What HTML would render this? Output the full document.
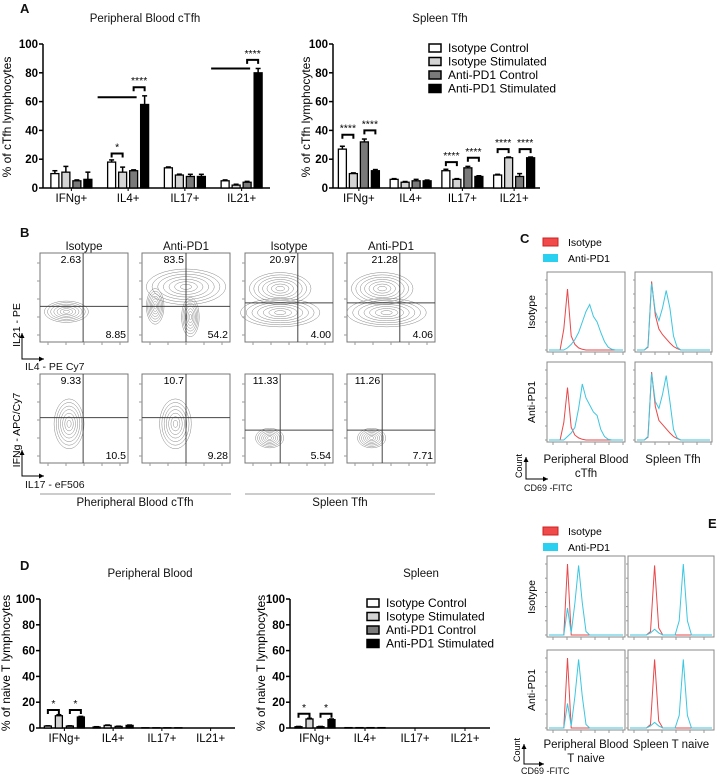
<!DOCTYPE html>
<html><head><meta charset="utf-8"><style>
html,body{margin:0;padding:0;background:#fff}
svg{display:block;font-family:"Liberation Sans",Arial,sans-serif}
</style></head><body>
<svg id="fig" width="719" height="775" viewBox="0 0 719 775" xmlns="http://www.w3.org/2000/svg"></svg>
<script>
// ---------- Panel A data ----------
const catsA = ["IFNg+","IL4+","IL17+","IL21+"];
const seriesNames = ["Isotype Control","Isotype Stimulated","Anti-PD1 Control","Anti-PD1 Stimulated"];
const aLeftVals = [[10,11,5,6],[18,11,12,58],[14,9,8,8],[5,2,4,80]];
const aLeftErr  = [[2,4,0.6,5],[1.5,3.5,0.6,6],[0.6,0.6,1.5,1.5],[0.6,0.6,0.6,3]];
const aRightVals = [[27,10,32,12],[6,4,5,5],[12,6,14,8],[9,21,8,21]];
const aRightErr  = [[2,0.5,2,0.8],[0.5,0.5,1,0.5],[1,0.5,1,0.5],[0.5,0.5,2,0.5]];
const yTicks = [0,20,40,60,80,100];
// brackets: [group, barA, barB, value, label]
const aLeftSig = [[1,0,1,24,"*"],[1,2,3,70,"****"],[3,2,3,89,"****"]];
const aLeftLines = [[1,-1,2,63],[3,-1,2,83]];
const aRightSig = [[0,0,1,37,"****"],[0,2,3,40,"****"],[2,0,1,18,"****"],[2,2,3,21,"****"],[3,0,1,27,"****"],[3,2,3,27,"****"]];
// ---------- Panel D data ----------
const dLeftVals = [[1.5,9.5,1.5,8.5],[0.8,2,1.2,2],[0.2,0.2,0.2,0.2],[0,0,0,0]];
const dLeftErr = [[0.2,0.8,0.2,0.5],[0.2,0.3,0.2,0.3],[0,0,0,0],[0,0,0,0]];
const dRightVals = [[1,7,1,6.5],[0.3,0.3,0.3,0.3],[0,0,0,0],[0,0,0,0]];
const dRightErr = [[0.2,0.5,0.2,0.5],[0,0,0,0],[0,0,0,0],[0,0,0,0]];
const dLeftSig = [[0,0,1,14,"*"],[0,2,3,14,"*"]];
const dRightSig = [[0,0,1,11,"*"],[0,2,3,11,"*"]];
// ---------- Panel B data (quadrant percentages) ----------
const bTopLeft = ["2.63","83.5","20.97","21.28","9.33","10.7","11.33","11.26"];
const bBotRight = ["8.85","54.2","4.00","4.06","10.5","9.28","5.54","7.71"];
// ---------- Histogram data (21 bins over axis range) ----------
const cIso = [
 [0,0,0,0,30,87,20,8,3,1,0,0,0,0,0,0,0,0,0,0,0],
 [0,0,0,4,98,50,30,22,16,10,5,2,0,0,0,0,0,0,0,0,0],
 [0,0,0,0,25,75,18,7,3,1,0,0,0,0,0,0,0,0,0,0,0],
 [0,0,0,4,97,48,28,22,16,10,5,2,0,0,0,0,0,0,0,0,0]];
const cAnti = [
 [0,0,0,0,0,3,8,15,25,40,55,65,48,40,25,12,4,1,0,0,0],
 [0,0,0,5,95,55,42,60,85,60,20,4,0,0,0,0,0,0,0,0,0],
 [0,0,0,0,0,5,10,18,45,80,60,50,40,35,15,5,1,0,0,0,0],
 [0,0,0,5,95,55,45,65,92,55,15,3,0,0,0,0,0,0,0,0,0]];
const eIso = [
 [0,0,0,0,0,100,0,0,0,0,0,0,0,0,0,0,0,0,0,0,0],
 [0,0,0,0,0,5,98,10,0,0,0,0,0,0,0,0,0,0,0,0,0],
 [0,0,0,0,0,100,0,0,0,0,0,0,0,0,0,0,0,0,0,0,0],
 [0,0,0,0,0,5,98,10,0,0,0,0,0,0,0,0,0,0,0,0,0]];
const eAnti = [
 [0,0,0,0,0,38,3,45,98,45,5,0,0,0,0,0,0,0,0,0,0],
 [0,0,0,0,0,3,8,3,0,0,0,0,20,100,20,0,0,0,0,0,0],
 [0,0,0,0,0,35,3,45,98,45,5,0,0,0,0,0,0,0,0,0,0],
 [0,0,0,0,0,3,8,3,0,0,0,0,18,98,18,0,0,0,0,0,0]];

const NS="http://www.w3.org/2000/svg";
const svg=document.getElementById('fig');
function el(tag,attrs,parent,text){const e=document.createElementNS(NS,tag);for(const k in attrs)e.setAttribute(k,attrs[k]);if(text!==undefined)e.textContent=text;(parent||svg).appendChild(e);return e;}
function txt(x,y,s,size,opts,name){opts=opts||{};const t=el('text',Object.assign({x:x,y:y,'font-size':size,fill:'#111'},opts),svg,s);


return t;}

const fills=['#ffffff','#d4d4d4','#7a7a7a','#000000'];

function barChart(cfg){
  const g=el('g',{});
  
  
  const ys=v=>cfg.y0-v*cfg.k;
  const gw=(cfg.xEnd-cfg.x0)/catsA.length;
  const gc=i=>cfg.x0+(i+0.5)*gw;
  const bx=(i,j)=>gc(i)+(j-1.5)*cfg.step;
  const ax=el('line',{x1:cfg.x0,y1:ys(0),x2:cfg.xEnd,y2:ys(0),stroke:'#000','stroke-width':1.5},g);
  
  
  const ay=el('line',{x1:cfg.x0,y1:ys(0),x2:cfg.x0,y2:ys(100),stroke:'#000','stroke-width':1.5},g);
  
  
  yTicks.forEach(t=>{
    el('line',{x1:cfg.x0-4,y1:ys(t),x2:cfg.x0,y2:ys(t),stroke:'#000','stroke-width':1.5},g);
    const tl=el('text',{x:cfg.x0-5,y:ys(t)+4,'font-size':11.5,'font-weight':'bold','text-anchor':'end'},g,String(t));
    
    
  });
  catsA.forEach((c,i)=>{
    el('line',{x1:gc(i),y1:ys(0),x2:gc(i),y2:ys(0)+3,stroke:'#000'},g);
    const cl=el('text',{x:gc(i),y:ys(0)+14,'font-size':11.5,'text-anchor':'middle'},g,c);
    
    
    cfg.vals[i].forEach((v,j)=>{
      const e=cfg.err[i][j];
      if(e>0){
        el('line',{x1:bx(i,j),y1:ys(v),x2:bx(i,j),y2:ys(v+e),stroke:'#000','stroke-width':1.5},g);
        el('line',{x1:bx(i,j)-2.5,y1:ys(v+e),x2:bx(i,j)+2.5,y2:ys(v+e),stroke:'#000','stroke-width':1.5},g);
      }
      const r=el('rect',{x:bx(i,j)-cfg.bw/2,y:ys(v),width:cfg.bw,height:Math.max(0,v*cfg.k),fill:fills[j],stroke:'#000','stroke-width':1.3},g);
      
      
    });
  });
  (cfg.lines||[]).forEach(l=>{
    el('line',{x1:bx(l[0],l[1])-3,y1:ys(l[3]),x2:bx(l[0],l[2])+3,y2:ys(l[3]),stroke:'#000','stroke-width':2},g);
  });
  (cfg.sig||[]).forEach(s=>{
    const xa=bx(s[0],s[1]),xb=bx(s[0],s[2]),y=ys(s[3]);
    el('path',{d:`M${xa},${y+4}V${y}H${xb}V${y+4}`,fill:'none',stroke:'#000','stroke-width':2},g);
    const st=el('text',{x:(xa+xb)/2,y:y-3,'font-size':10.5,'text-anchor':'middle'},g,s[4]);
    
    
  });
}
function legend(x,y,dy,size,name){
  const g=el('g',{});
  
  
  seriesNames.forEach((s,j)=>{
    const r=el('rect',{x:x,y:y+j*dy-4,width:12,height:8,fill:fills[j],stroke:'#000','stroke-width':1.5},g);
    
    
    const t=el('text',{x:x+19,y:y+j*dy+4,'font-size':size},g,s);
    
    
  });
}
function ytitle(x,y,s,size){const t=el('text',{x:0,y:0,'font-size':size,'text-anchor':'middle',transform:`translate(${x},${y}) rotate(-90)`},svg,s);

}

// ---------- Panel A ----------
txt(20,13,"A",13,{'font-weight':'bold'},'panel-label-a');
txt(145,22,"Peripheral Blood cTfh",11.5,{'text-anchor':'middle'},'chart-title');
txt(440,22,"Spleen Tfh",11.5,{'text-anchor':'middle'},'chart-title');
ytitle(11,117,"% of cTfh lymphocytes",12);
ytitle(310,117,"% of cTfh lymphocytes",12);
barChart({name:'chart-a-blood',x0:43,xEnd:270,y0:188,k:1.44,step:11,bw:8,vals:aLeftVals,err:aLeftErr,sig:aLeftSig,lines:aLeftLines});
barChart({name:'chart-a-spleen',x0:333,xEnd:540,y0:188,k:1.44,step:11,bw:8,vals:aRightVals,err:aRightErr,sig:aRightSig});
legend(429,48,13.5,12,'legend-a');

// ---------- Panel D ----------
txt(20,570,"D",13,{'font-weight':'bold'},'panel-label-d');
txt(150,577,"Peripheral Blood",11.5,{'text-anchor':'middle'},'chart-title');
txt(421,577,"Spleen",11.5,{'text-anchor':'middle'},'chart-title');
ytitle(10,663,"% of naive T lymphocytes",12);
ytitle(265,663,"% of naive T lymphocytes",12);
barChart({name:'chart-d-blood',x0:40,xEnd:235,y0:728,k:1.29,step:11,bw:7,vals:dLeftVals,err:dLeftErr,sig:dLeftSig});
barChart({name:'chart-d-spleen',x0:290,xEnd:490,y0:728,k:1.29,step:11,bw:7,vals:dRightVals,err:dRightErr,sig:dRightSig});
legend(367,603,13.5,12,'legend-d');

// ---------- Panel B (flow plots) ----------
txt(20,237,"B",13,{'font-weight':'bold'},'panel-label-b');
const bx0=[40,142,245,347], bw=88, by0=[253,374], bh=89;
const bTitles=["Isotype","Anti-PD1","Isotype","Anti-PD1"];
bTitles.forEach((t,i)=>txt(bx0[i]+bw/2,250,t,11.5,{'text-anchor':'middle'},'plot-title'));
const qv=[[0.49,0.6],[0.5,0.6],[0.6,0.56],[0.6,0.56],[0.49,0.49],[0.5,0.49],[0.4,0.63],[0.4,0.63]];
// contour blobs: [cx, cy, rx, ry] in plot fractions
const blobs=[
 [[0.3,0.66,0.25,0.12]],
 [[0.5,0.38,0.45,0.2],[0.55,0.72,0.1,0.22],[0.15,0.6,0.1,0.2]],
 [[0.4,0.4,0.35,0.18],[0.4,0.67,0.45,0.16]],
 [[0.4,0.4,0.35,0.18],[0.45,0.67,0.45,0.16]],
 [[0.33,0.56,0.17,0.28]],
 [[0.38,0.56,0.18,0.28]],
 [[0.28,0.72,0.16,0.11]],
 [[0.28,0.72,0.16,0.11]]];
for(let r=0;r<2;r++)for(let c=0;c<4;c++){
  const k=r*4+c,x=bx0[c],y=by0[r];
  const g=el('g',{});
  
  
  el('rect',{x:x,y:y,width:bw,height:bh,fill:'#fff',stroke:'#777','stroke-width':1},g);
  blobs[k].forEach(b=>{
    for(let n=7;n>=1;n--){
      el('ellipse',{cx:x+b[0]*bw,cy:y+b[1]*bh,rx:b[2]*bw*n/7,ry:b[3]*bh*n/7,fill:'none',stroke:'#888','stroke-width':0.5},g);
    }
  });
  const vx=x+qv[k][0]*bw, hy=y+qv[k][1]*bh;
  el('line',{x1:vx,y1:y,x2:vx,y2:y+bh,stroke:'#444','stroke-width':1},g);
  el('line',{x1:x,y1:hy,x2:x+bw,y2:hy,stroke:'#444','stroke-width':1},g);
  for(let t=0;t<5;t++){
    el('line',{x1:x+8+t*18,y1:y+bh,x2:x+8+t*18,y2:y+bh+3,stroke:'#999'},g);
    el('line',{x1:x,y1:y+10+t*18,x2:x-3,y2:y+10+t*18,stroke:'#999'},g);
  }
  const a=el('text',{x:vx-2,y:y+10,'font-size':10.5,'text-anchor':'end'},g,bTopLeft[k]);
  
  
  const b=el('text',{x:x+bw-2,y:y+bh-4,'font-size':10.5,'text-anchor':'end'},g,bBotRight[k]);
  
  
}
function arrowAxes(x,y,len,lenY){
  el('path',{d:`M${x},${y-lenY}V${y}H${x+len}`,fill:'none',stroke:'#000','stroke-width':1});
  el('path',{d:`M${x-2.5},${y-lenY+5}L${x},${y-lenY}L${x+2.5},${y-lenY+5}Z`,fill:'#000'});
  el('path',{d:`M${x+len-5},${y-2.5}L${x+len},${y}L${x+len-5},${y+2.5}Z`,fill:'#000'});
}
arrowAxes(22,359,22,26);
ytitle(20,325,"IL21 - PE",10.5);
txt(25,370,"IL4 - PE Cy7",10.5,{},'x-axis-title');
arrowAxes(22,476,22,26);
ytitle(20,430,"IFNg - APC/Cy7",10.5);
txt(25,488,"IL17 - eF506",10.5,{},'x-axis-title');
el('line',{x1:40,y1:494,x2:231,y2:494,stroke:'#999'});
el('line',{x1:245,y1:494,x2:435,y2:494,stroke:'#999'});
txt(135,506,"Pheripheral Blood cTfh",11.5,{'text-anchor':'middle'},'group-label');
txt(340,506,"Spleen Tfh",11.5,{'text-anchor':'middle'},'group-label');

// ---------- Histogram panels ----------
function histPanel(boxes,isoArr,antiArr,name){
  boxes.forEach((bb,k)=>{
    const g=el('g',{});
    
    
    const [x,y,w,h]=bb;
    el('rect',{x:x,y:y,width:w,height:h,fill:'#fff',stroke:'#888','stroke-width':1},g);
    const sx=i=>x+2+i*(w-4)/20, sy=v=>y+h-2-v*(h-10)/100;
    for(let t=0;t<6;t++){
      el('line',{x1:x,y1:sy(t*20),x2:x-2,y2:sy(t*20),stroke:'#999'},g);
      el('line',{x1:x+6+t*14,y1:y+h,x2:x+6+t*14,y2:y+h+3,stroke:'#999'},g);
    }
    [[isoArr[k],'#e8484a'],[antiArr[k],'#3cc6e0']].forEach(([arr,col])=>{
      const d=arr.map((v,i)=>(i?'L':'M')+sx(i).toFixed(1)+','+sy(v).toFixed(1)).join('');
      const p=el('path',{d:d,fill:'none',stroke:col,'stroke-width':1},g);
      
      
    });
  });
}
function histLegend(x,y,name){
  const g=el('g',{});
  
  
  el('rect',{x:x,y:y,width:15,height:8,fill:'#f04a4a',stroke:'#c22'},g);
  el('rect',{x:x,y:y+16,width:15,height:8,fill:'#29d0f0'},g);
  const a=el('text',{x:x+25,y:y+8,'font-size':10.5},g,"Isotype");
  
  
  const b=el('text',{x:x+25,y:y+24,'font-size':10.5},g,"Anti-PD1");
  
  
}
txt(520,243,"C",13,{'font-weight':'bold'},'panel-label-c');
histLegend(543,238,'legend-c');
histPanel([[547,272,78,80],[635,272,77,80],[547,362,78,80],[635,362,77,80]],cIso,cAnti,'histogram-c');
ytitle(535,312,"Isotype",10.5);
ytitle(535,402,"Anti-PD1",10.5);
txt(586,463,"Peripheral Blood",11.5,{'text-anchor':'middle'},'group-label');
txt(586,477,"cTfh",11.5,{'text-anchor':'middle'},'group-label');
txt(673,463,"Spleen Tfh",11.5,{'text-anchor':'middle'},'group-label');
arrowAxes(526,479,22,22);
ytitle(522,466,"Count",9);
txt(524,491,"CD69 -FITC",9,{},'x-axis-title');

txt(708,528,"E",13,{'font-weight':'bold'},'panel-label-e');
histLegend(543,527,'legend-e');
histPanel([[547,556,78,81],[628,556,86,81],[547,650,78,80],[628,650,86,80]],eIso,eAnti,'histogram-e');
ytitle(535,597,"Isotype",10.5);
ytitle(535,690,"Anti-PD1",10.5);
txt(586,748,"Peripheral Blood",11.5,{'text-anchor':'middle'},'group-label');
txt(586,762,"T naive",11.5,{'text-anchor':'middle'},'group-label');
txt(671,748,"Spleen T naive",11.5,{'text-anchor':'middle'},'group-label');
arrowAxes(524,764,20,20);
ytitle(520,750,"Count",9);
txt(521,774,"CD69 -FITC",9,{},'x-axis-title');
</script>
</body></html>
